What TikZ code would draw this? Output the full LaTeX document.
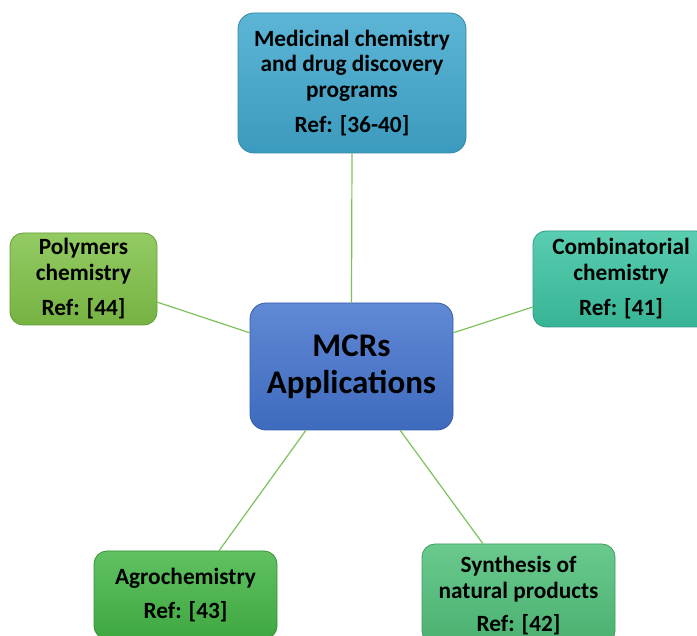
\documentclass[tikz,border=0pt]{standalone}
\usepackage{fontspec}
\setmainfont{Carlito}
\usetikzlibrary{calc}
\definecolor{linkgreen}{HTML}{7DC15A}
\tikzset{
  box/.style={rounded corners=16pt, draw=#1!80!black, line width=0.8pt,
    top color=#1!85!white, bottom color=#1!92!black, inner sep=0pt,
    align=center, font=\bfseries\fontsize{23.3}{25.5}\selectfont, text=black},
  link/.style={draw=linkgreen, line width=1.2pt}
}
\definecolor{cTop}{HTML}{40A8CE}
\definecolor{cMid}{HTML}{4474CE}
\definecolor{cPoly}{HTML}{80C248}
\definecolor{cComb}{HTML}{3CC4A2}
\definecolor{cAgro}{HTML}{44B646}
\definecolor{cSyn}{HTML}{50C07A}
\begin{document}
\begin{tikzpicture}[x=1pt,y=-1pt]
\useasboundingbox (0,0) rectangle (697,636);
\node[box=cTop, minimum width=228pt, minimum height=140pt] (top) at (352,83)
  {Medicinal chemistry\\and drug discovery\\programs\\[10pt]Ref: [36-40]};
\node[box=cMid, minimum width=203pt, minimum height=127pt, font=\bfseries\fontsize{33}{37}\selectfont] (mid) at (351.5,366.5)
  {MCRs\\Applications};
\node[box=cPoly, rounded corners=13pt, minimum width=147pt, minimum height=92pt] (poly) at (83.5,279)
  {Polymers\\chemistry\\[10pt]Ref: [44]};
\node[box=cComb, rounded corners=13pt, minimum width=176pt, minimum height=96pt] (comb) at (621,279)
  {Combinatorial\\chemistry\\[10pt]Ref: [41]};
\node[box=cAgro, rounded corners=13pt, minimum width=183pt, minimum height=88pt] (agro) at (185.5,595)
  {Agrochemistry\\[8pt]Ref: [43]};
\node[box=cSyn, rounded corners=13pt, minimum width=193pt, minimum height=100pt, text depth=0pt] (syn) at (518.5,594)
  {Synthesis of\\natural products\\[8pt]Ref: [42]};
\draw[link] (top.south) -- (mid.north);
\draw[link] ($(poly.north east)!0.75!(poly.south east)$) -- ($(mid.north west)!0.236!(mid.south west)$);
\draw[link] ($(comb.north west)!0.79!(comb.south west)$) -- ($(mid.north east)!0.236!(mid.south east)$);
\draw[link] ($(agro.north west)!0.683!(agro.north east)$) -- ($(mid.south west)!0.276!(mid.south east)$);
\draw[link] ($(syn.north west)!0.316!(syn.north east)$) -- ($(mid.south west)!0.739!(mid.south east)$);
\end{tikzpicture}
\end{document}
